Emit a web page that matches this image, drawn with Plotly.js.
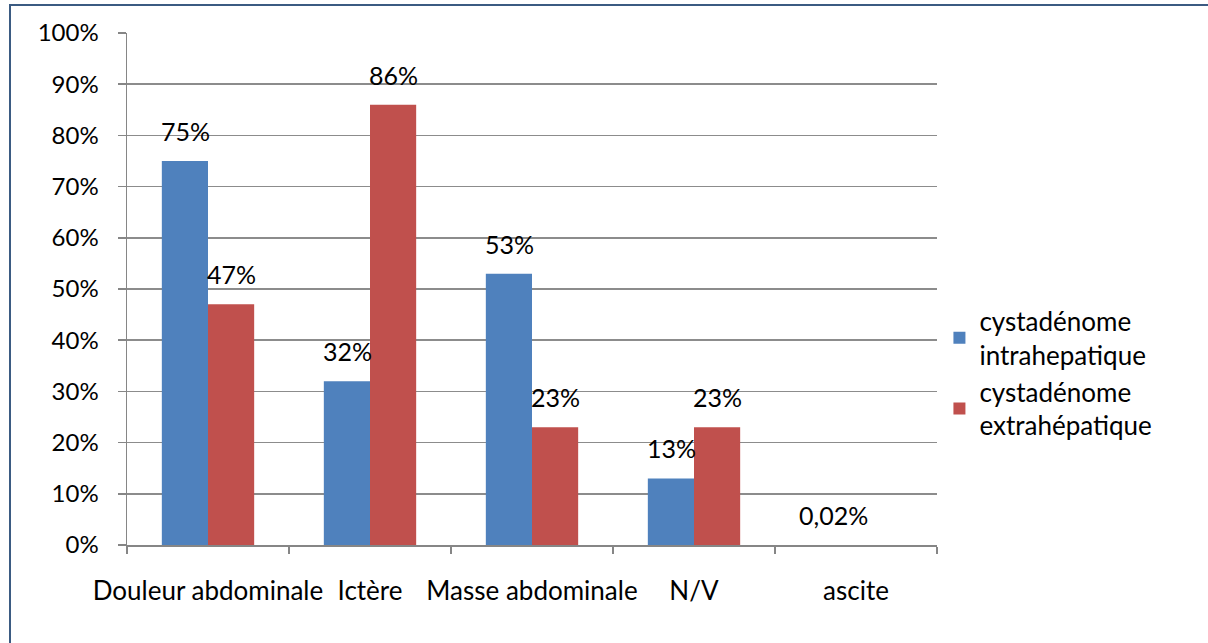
<!DOCTYPE html>
<html>
<head>
<meta charset="utf-8">
<script src="https://cdn.plot.ly/plotly-3.0.1.min.js"></script>
<style>
  html, body { margin: 0; padding: 0; background: #fff; }
  #frame { position: absolute; left: 9px; top: 4px; width: 1210px; height: 650px;
           border-top: 2px solid #3b5b82; border-left: 2px solid #3b5b82; box-sizing: border-box; pointer-events: none; z-index: 5; }
  #chart { position: absolute; left: 0; top: 0; width: 1208px; height: 643px; }
</style>
</head>
<body>
<div id="chart"></div>
<div id="frame"></div>
<script>
const categories = ["Douleur abdominale", "Ictère", "Masse abdominale", "N/V", "ascite"];
const intraName = "cystadénome<br>intrahepatique";
const extraName = "cystadénome<br>extrahépatique";
const intraValues = [75, 32, 53, 13, 0.02];
const extraValues = [47, 86, 23, 23, null];
const yTickVals = [0, 10, 20, 30, 40, 50, 60, 70, 80, 90, 100];
const yTickText = ["0%", "10%", "20%", "30%", "40%", "50%", "60%", "70%", "80%", "90%", "100%"];

const FONT = "Lato, 'Open Sans', sans-serif";
const fmt = v => String(v).replace(".", ",") + "%";

const traces = [
  { type: "bar", name: intraName, x: categories, y: intraValues,
    marker: { color: "#4F81BD" }, hoverinfo: "skip" },
  { type: "bar", name: extraName, x: categories, y: extraValues,
    marker: { color: "#C0504D" }, hoverinfo: "skip" }
];

const annotations = [];
intraValues.forEach((v, i) => {
  if (v !== null) annotations.push({ x: categories[i], y: v, xref: "x", yref: "y", text: fmt(v),
    showarrow: false, xshift: -23, yshift: 30, font: { family: FONT, size: 25, color: "#000" } });
});
extraValues.forEach((v, i) => {
  if (v !== null) annotations.push({ x: categories[i], y: v, xref: "x", yref: "y", text: fmt(v),
    showarrow: false, xshift: 23, yshift: 30, font: { family: FONT, size: 25, color: "#000" } });
});

const layout = {
  width: 1208, height: 643,
  margin: { l: 127, r: 271, t: 33, b: 98 },
  paper_bgcolor: "#fff", plot_bgcolor: "#fff",
  font: { family: FONT, size: 24, color: "#000" },
  barmode: "group", bargap: 0.43, bargroupgap: 0,
  showlegend: true,
  legend: { x: 1.003, xanchor: "left", y: 0.335, yanchor: "middle",
    font: { family: FONT, size: 26, color: "#000" }, tracegroupgap: 12,
    itemwidth: 30, bgcolor: "rgba(0,0,0,0)" },
  xaxis: { type: "category", showline: true, linecolor: "#868686", linewidth: 2,
    ticks: "outside", tickson: "boundaries", ticklen: 7, tickcolor: "#868686", tickwidth: 1.5,
    showgrid: false, ticklabelstandoff: 22, tickangle: 0, fixedrange: true,
    tickfont: { family: FONT, size: 26, color: "#000" } },
  yaxis: { range: [0, 100], tickvals: yTickVals, ticktext: yTickText,
    showline: true, linecolor: "#868686", linewidth: 1.5,
    ticks: "outside", ticklen: 8, tickcolor: "#868686", tickwidth: 1.5,
    showgrid: true, gridcolor: "#8c8c8c", gridwidth: 1.5, zeroline: false,
    ticklabelstandoff: 14, fixedrange: true,
    tickfont: { family: FONT, size: 24, color: "#000" } },
  annotations: annotations
};

Plotly.newPlot("chart", traces, layout, { displayModeBar: false, staticPlot: true });
</script>
</body>
</html>
